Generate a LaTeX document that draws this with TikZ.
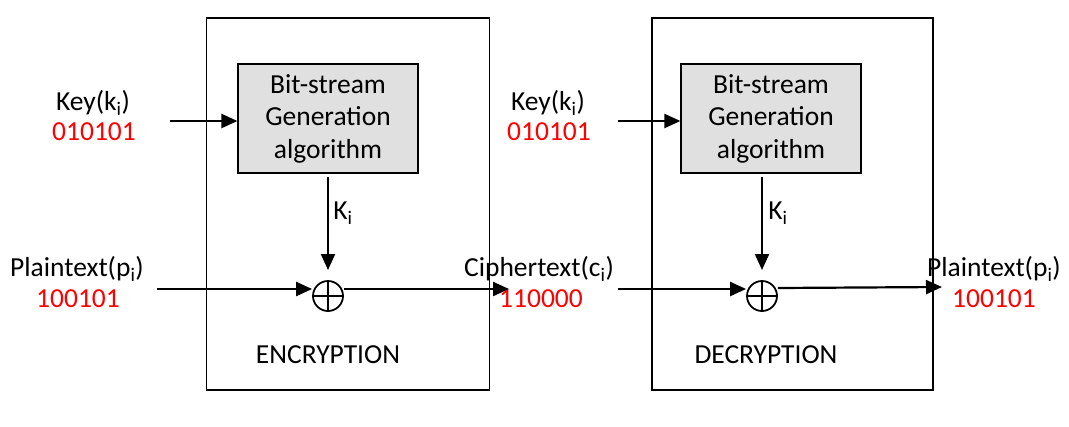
\documentclass[tikz,border=0pt]{standalone}
\usepackage{fontspec}
\setmainfont{Carlito}
\usetikzlibrary{arrows.meta}
\definecolor{boxgray}{HTML}{E0E0E0}
\definecolor{bitred}{HTML}{FF0000}
\begin{document}
\begin{tikzpicture}[x=1pt,y=-1pt,
  every node/.style={font=\fontsize{27.5}{32.5}\selectfont, inner sep=0pt},
  outer/.style={draw, line width=1.2pt, minimum width=#1, minimum height=372pt},
  genbox/.style={draw, fill=boxgray, line width=1.2pt, minimum width=180pt, minimum height=109pt, align=center},
  xorop/.style={circle, draw, line width=1.8pt, minimum size=30pt,
    path picture={\draw[line width=1.8pt] (path picture bounding box.north) -- (path picture bounding box.south)
      (path picture bounding box.west) -- (path picture bounding box.east);}},
  conn/.style={line width=2.2pt, -{Triangle[length=16pt,width=14pt]}},
  bits/.style={text=bitred}]
\useasboundingbox (0,0) rectangle (1069,426);
% encryption
\node[outer=283pt] (enc) at (348,204) {};
\node[genbox] (gen1) at (328,118.5) {Bit-stream\\Generation\\algorithm};
\node[xorop] (x1) at (328,296) {};
\node (enclab) at (328,355) {ENCRYPTION};
\node (key1) at (93,103) {Key(k\textsubscript{i})};
\node[bits] (kb1) at (94,132) {010101};
\node (pt1) at (77,269) {Plaintext(p\textsubscript{i})};
\node[bits] (pb1) at (78,299) {100101};
\node (ki1) at (343,213) {K\textsubscript{i}};
\coordinate (k1s) at (170,121);
\coordinate (p1s) at (157,289);
\draw[conn] (k1s) -- (gen1.west |- k1s);
\draw[conn] (gen1.south |- 0,177) -- (x1.north |- 0,270);
\draw[conn] (p1s) -- (x1.west |- p1s);
% ciphertext
\node (ct) at (539,269) {Ciphertext(c\textsubscript{i})};
\node[bits] (cb) at (541,299) {110000};
\coordinate (c1e) at (509,289);
\draw[conn] (x1.east |- c1e) -- (c1e);
% decryption
\node[outer=281pt] (dec) at (792.5,204) {};
\node[genbox] (gen2) at (771,118.5) {Bit-stream\\Generation\\algorithm};
\node[xorop] (x2) at (762,296) {};
\node (declab) at (766,355) {DECRYPTION};
\node (key2) at (548,103) {Key(k\textsubscript{i})};
\node[bits] (kb2) at (549,132) {010101};
\node (ki2) at (778,213) {K\textsubscript{i}};
\coordinate (k2s) at (618,121);
\coordinate (c2s) at (618,289);
\draw[conn] (k2s) -- (gen2.west |- k2s);
\draw[conn] (x2.north |- 0,177) -- (x2.north |- 0,270);
\draw[conn] (c2s) -- (x2.west |- c2s);
\node (pt2) at (994,269) {Plaintext(p\textsubscript{i})};
\node[bits] (pb2) at (994,299) {100101};
\coordinate (p2e) at (942,287);
\draw[conn] (x2.east |- 0,288) -- (p2e);
\end{tikzpicture}
\end{document}
